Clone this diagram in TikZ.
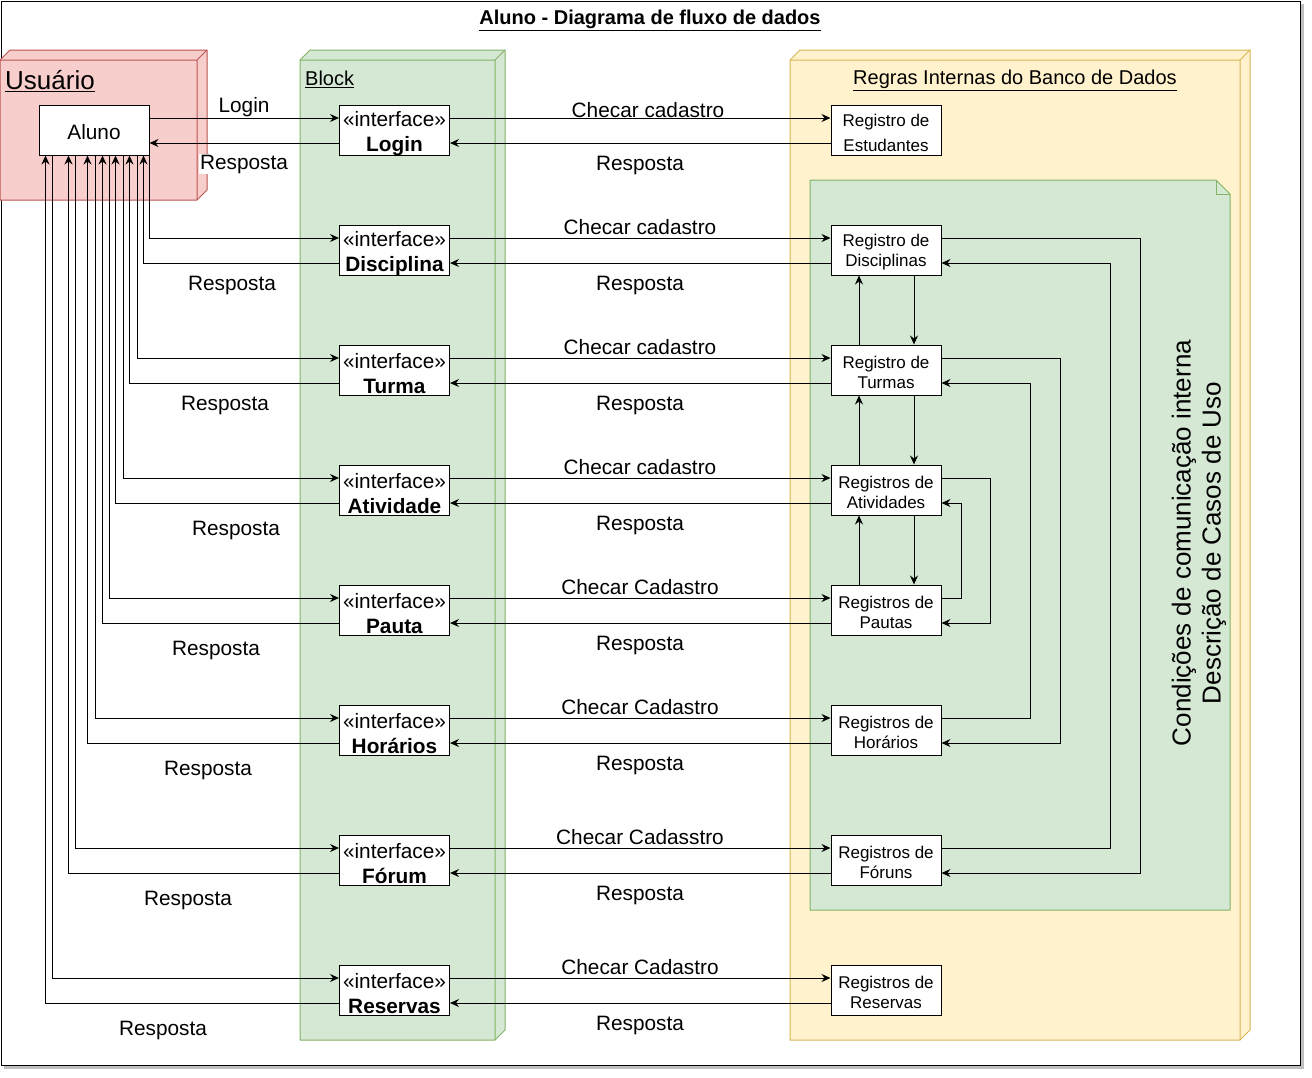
\documentclass[tikz,border=0pt]{standalone}
\usepackage{fontspec}
\setmainfont{Liberation Sans}
\usetikzlibrary{arrows.meta,calc}
\definecolor{redfill}{HTML}{F8CECC}
\definecolor{redline}{HTML}{B85450}
\definecolor{grnfill}{HTML}{D5E8D4}
\definecolor{grnline}{HTML}{82B366}
\definecolor{yelfill}{HTML}{FFF2CC}
\definecolor{yelline}{HTML}{D6B656}
\newcommand{\fsz}[2]{\fontsize{#1}{#2}\selectfont}
\begin{document}
\begin{tikzpicture}[x=1pt,y=-1pt,
  conn/.style={draw=black, line width=1pt},
  arr/.style={conn, -{Stealth[length=9pt,width=8pt,inset=3pt]}},
  boxst/.style={draw=black, fill=white, line width=1pt, minimum width=110pt, minimum height=50pt, inner sep=0pt},
  itext/.style={inner sep=0pt, align=center, font=\fsz{20.8}{25}},
  rtext/.style={inner sep=0pt, align=center, font=\fsz{17}{20}},
  lbl/.style={inner sep=1pt, font=\fsz{20.8}{25}},
  hdr/.style={inner sep=0pt, font=\fsz{20}{24}}
]
\useasboundingbox (0,0) rectangle (1312,1077);
% outer frame with shadow
\fill[black!25] (4,4) rectangle (1304,1069);
\draw[fill=white, line width=1pt] (1,1) rectangle (1300,1065);
\node[hdr, font=\fsz{20}{24}\bfseries] (title) at (650,20) {\underline{Aluno - Diagrama de fluxo de dados}};
% Usuario cube
\draw[fill=redfill, draw=redline, line width=1pt, line join=round]
  (0,60) -- (10,50) -- (207,50) -- (207,190) -- (197,200) -- (0,200) -- cycle;
\draw[draw=redline, line width=1pt] (0,60) -- (197,60) -- (207,50) (197,60) -- (197,200);
% Block cube
\draw[fill=grnfill, draw=grnline, line width=1pt, line join=round]
  (300,60) -- (310,50) -- (505,50) -- (505,1030) -- (495,1040) -- (300,1040) -- cycle;
\draw[draw=grnline, line width=1pt] (300,60) -- (495,60) -- (505,50) (495,60) -- (495,1040);
% Regras cube
\draw[fill=yelfill, draw=yelline, line width=1pt, line join=round]
  (790,60) -- (800,50) -- (1250,50) -- (1250,1030) -- (1240,1040) -- (790,1040) -- cycle;
\draw[draw=yelline, line width=1pt] (790,60) -- (1240,60) -- (1250,50) (1240,60) -- (1240,1040);
% note
\draw[fill=grnfill, draw=grnline, line width=1pt, line join=round]
  (810,180) -- (1216,180) -- (1230,194) -- (1230,910) -- (810,910) -- cycle;
\draw[draw=grnline, line width=1pt] (1216,180) -- (1216,194) -- (1230,194);
% headers
\node[hdr, anchor=west, font=\fsz{26}{30}] (husr) at (5,81) {\underline{Usuário}};
\node[hdr, anchor=west] (hblock) at (305,79) {\underline{Block}};
\node[hdr] (hregras) at (1015,80) {\underline{Regras Internas do Banco de Dados}};
\node[inner sep=0pt, rotate=90, align=center, font=\fsz{26}{30}] (hnote) at (1199,543) {Condições de comunicação interna\\Descrição de Casos de Uso};
% Aluno
\node[boxst] (aluno) at (94,130) {};
\node[itext] (aluno-t) at ([yshift=-2.5pt]aluno.center) {Aluno};
% interfaces
\foreach \n/\y/\t in {ilogin/130/Login, idisc/250/Disciplina, iturma/370/Turma, iativ/490/Atividade, ipauta/610/Pauta, ihor/730/Horários, iforum/860/Fórum, ires/990/Reservas}{
  \node[boxst] (\n) at (394.5,\y) {};
  \node[itext] (\n-t) at ([yshift=-3.5pt]\n.center) {«interface»\\\textbf{\t}};
}
% registros
\node[boxst] (rest) at (886,130) {};
\node[rtext, font=\fsz{17}{25}] (rest-t) at ([yshift=-3pt]rest.center) {Registro de\\Estudantes};
\foreach \n/\y/\a/\b in {rdisc/250/Registro de/Disciplinas, rturma/370/Registro de/Turmas, rativ/490/Registros de/Atividades, rpauta/610/Registros de/Pautas, rhor/730/Registros de/Horários, rforum/860/Registros de/Fóruns, rres/990/Registros de/Reservas}{
  \node[boxst] (\n) at (886,\y) {};
  \node[rtext] (\n-t) at ([yshift=-2.5pt]\n.center) {\a\\\b};
}
% Aluno <-> Login
\draw[arr] ([yshift=12pt]aluno.east) -- ([yshift=12pt]ilogin.west);
\draw[arr] ([yshift=-13pt]ilogin.west) -- ([yshift=-13pt]aluno.east);
% Aluno <-> other interfaces
\foreach \i/\o/\r in {idisc/0/6, iturma/12/20, iativ/26/34, ipauta/40/47, ihor/54/62, iforum/74/81, ires/97/104}{
  \draw[arr] ([xshift=-\o pt]aluno.south east) |- ([yshift=12pt]\i.west);
  \draw[arr] ([yshift=-13pt]\i.west) -| ([xshift=-\r pt]aluno.south east);
}
% interfaces <-> registros
\foreach \i/\r in {ilogin/rest, idisc/rdisc, iturma/rturma, iativ/rativ, ipauta/rpauta, ihor/rhor, iforum/rforum, ires/rres}{
  \draw[arr] ([yshift=12pt]\i.east) -- ([yshift=12pt]\r.west);
  \draw[arr] ([yshift=-13pt]\r.west) -- ([yshift=-13pt]\i.east);
}
% vertical links
\foreach \a/\b in {rdisc/rturma, rturma/rativ, rativ/rpauta}{
  \draw[arr] ([xshift=28pt]\a.south) -- ([xshift=28pt]\b.north);
  \draw[arr] ([xshift=-27pt]\b.north) -- ([xshift=-27pt]\a.south);
}
% right side loops
\draw[arr] ([yshift=12pt]rdisc.east) -- ++(199,0) |- ([yshift=-13pt]rforum.east);
\draw[arr] ([yshift=12pt]rforum.east) -- ++(169,0) |- ([yshift=-13pt]rdisc.east);
\draw[arr] ([yshift=12pt]rturma.east) -- ++(119,0) |- ([yshift=-13pt]rhor.east);
\draw[arr] ([yshift=12pt]rhor.east) -- ++(89,0) |- ([yshift=-13pt]rturma.east);
\draw[arr] ([yshift=12pt]rativ.east) -- ++(49,0) |- ([yshift=-13pt]rpauta.east);
\draw[arr] ([yshift=12pt]rpauta.east) -- ++(20,0) |- ([yshift=-13pt]rativ.east);
% labels left
\node[lbl] (llogin) at (244,107) {Login};
\node[lbl, fill=white] (rl0) at (244,164) {Resposta};
\node[lbl] (rl1) at (232,285) {Resposta};
\node[lbl] (rl2) at (225,405) {Resposta};
\node[lbl] (rl3) at (236,530) {Resposta};
\node[lbl] (rl4) at (216,650) {Resposta};
\node[lbl] (rl5) at (208,770) {Resposta};
\node[lbl] (rl6) at (188,900) {Resposta};
\node[lbl] (rl7) at (163,1030) {Resposta};
% labels right
\node[lbl] (cl0) at (648,110) {Checar cadastro};
\node[lbl] (cl1) at (640,227) {Checar cadastro};
\node[lbl] (cl2) at (640,347) {Checar cadastro};
\node[lbl] (cl3) at (640,467) {Checar cadastro};
\node[lbl] (cl4) at (640,587) {Checar Cadastro};
\node[lbl] (cl5) at (640,707) {Checar Cadastro};
\node[lbl] (cl6) at (640,837) {Checar Cadasstro};
\node[lbl] (cl7) at (640,967) {Checar Cadastro};
\node[lbl] (rr0) at (640,165) {Resposta};
\node[lbl] (rr1) at (640,285) {Resposta};
\node[lbl] (rr2) at (640,405) {Resposta};
\node[lbl] (rr3) at (640,525) {Resposta};
\node[lbl] (rr4) at (640,645) {Resposta};
\node[lbl] (rr5) at (640,765) {Resposta};
\node[lbl] (rr6) at (640,895) {Resposta};
\node[lbl] (rr7) at (640,1025) {Resposta};
\end{tikzpicture}
\end{document}
